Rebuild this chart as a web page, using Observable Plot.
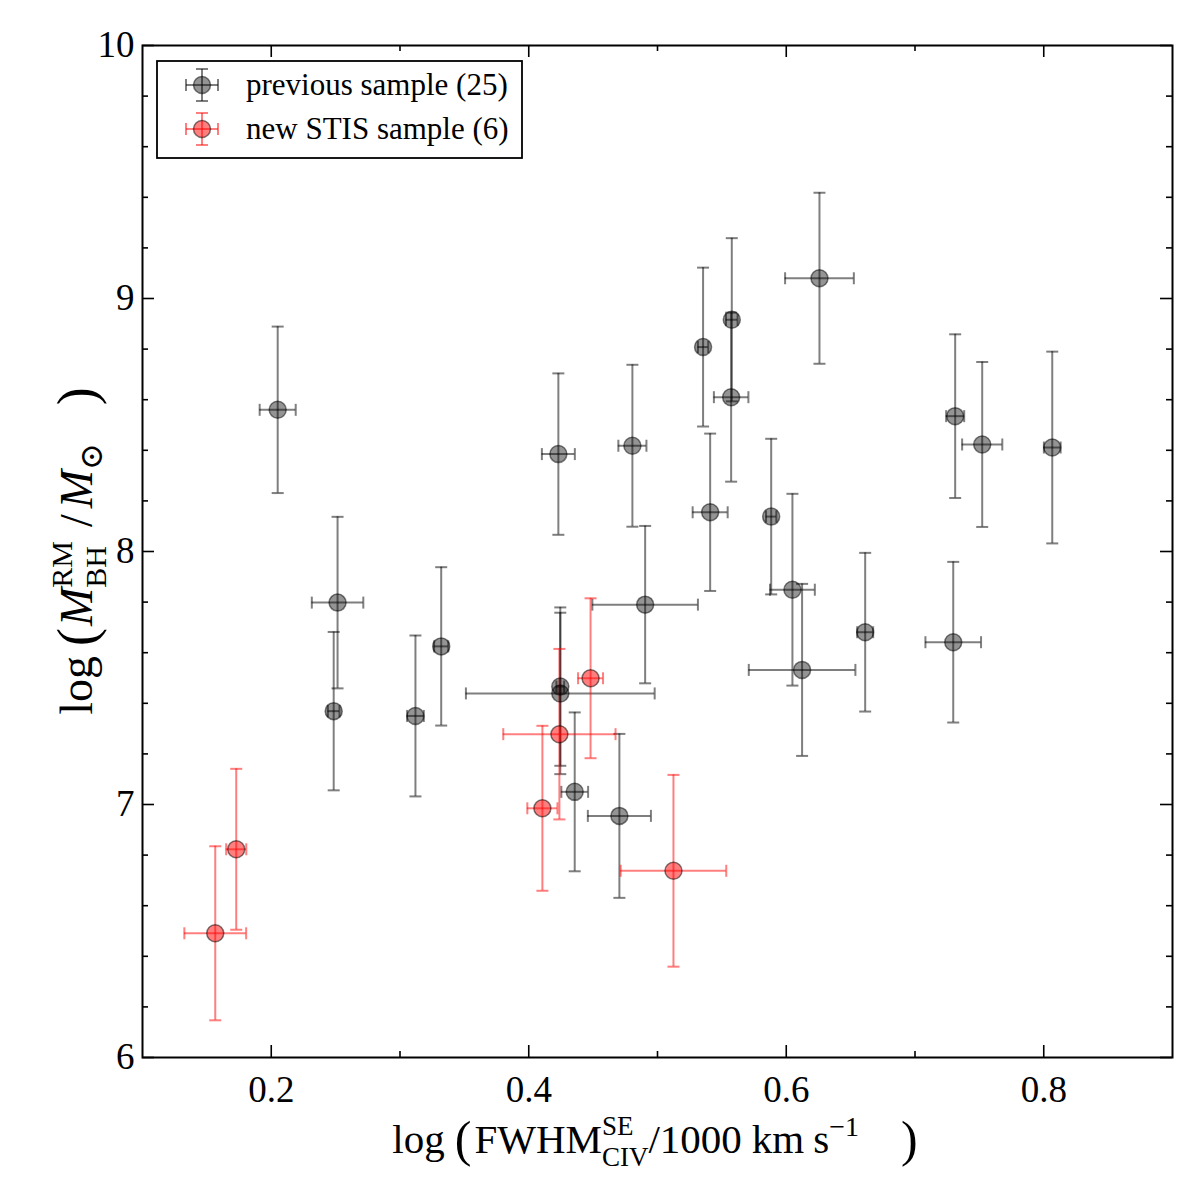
<!DOCTYPE html>
<html>
<head>
<meta charset="utf-8">
<script src="https://cdn.jsdelivr.net/npm/d3@7"></script>
<script src="https://cdn.jsdelivr.net/npm/@observablehq/plot@0.6"></script>
<style>
  html, body { margin: 0; padding: 0; background: #fff; }
  #chart svg { display: block; }
  #chart svg text { font-family: "Liberation Serif", "DejaVu Serif", serif; }
</style>
</head>
<body>
<div id="chart"></div>
<script>
// ---- data ----
const prevX    = [0.205, 0.2515, 0.2485, 0.312, 0.332, 0.423, 0.4245, 0.4245, 0.4357, 0.4704, 0.4904, 0.4805, 0.5354, 0.5577, 0.5572, 0.5409, 0.6258, 0.5883, 0.6048, 0.6123, 0.6613, 0.7312, 0.7522, 0.8066, 0.7297];
const prevY    = [8.560, 7.798, 7.369, 7.350, 7.625, 8.385, 7.466, 7.439, 7.050, 6.955, 7.790, 8.418, 8.808, 8.916, 8.610, 8.155, 9.080, 8.138, 7.849, 7.532, 7.681, 8.535, 8.423, 8.411, 7.6415];
const prevXerr = [0.014, 0.020, 0.0045, 0.0065, 0.0055, 0.0128, 0.003, 0.0733, 0.0104, 0.0245, 0.041, 0.0109, 0.004, 0.0045, 0.0134, 0.0136, 0.0267, 0.004, 0.0174, 0.0414, 0.0062, 0.007, 0.0156, 0.0065, 0.0216];
const prevYerr = [0.329, 0.339, 0.313, 0.318, 0.313, 0.319, 0.313, 0.319, 0.314, 0.324, 0.311, 0.320, 0.314, 0.3225, 0.334, 0.311, 0.338, 0.3075, 0.379, 0.34, 0.3136, 0.3235, 0.326, 0.379, 0.3175];

const newX    = [0.1565, 0.1728, 0.4106, 0.4238, 0.448, 0.5124];
const newY    = [6.491, 6.823, 6.985, 7.278, 7.499, 6.738];
const newXerr = [0.024, 0.0078, 0.0117, 0.0436, 0.0097, 0.041];
const newYerr = [0.344, 0.318, 0.326, 0.337, 0.316, 0.379];

const seriesNames = ["previous sample (25)", "new STIS sample (6)"];
const xTickLabels = [0.2, 0.4, 0.6, 0.8];
const xMinorTicks = [0.3, 0.5, 0.7];
const yTickLabels = [6, 7, 8, 9, 10];
const yMinorTicks = d3.range(6.2, 10, 0.2).filter(v => Math.abs(v - Math.round(v)) > 1e-6);

// ---- build tables ----
const prev = prevX.map((x, i) => ({x, y: prevY[i], ex: prevXerr[i], ey: prevYerr[i]}));
const stis = newX.map((x, i) => ({x, y: newY[i], ex: newXerr[i], ey: newYerr[i]}));

const W = 1200, H = 1200;
const mL = 142, mR = 28, mT = 45, mB = 143;
const plotH = H - mT - mB, plotW = W - mL - mR;
const FONT = "Liberation Serif, DejaVu Serif, serif";

const hcap = {draw(ctx, size) { const r = Math.sqrt(size / Math.PI); ctx.moveTo(-r, 0); ctx.lineTo(r, 0); }};
const vcap = {draw(ctx, size) { const r = Math.sqrt(size / Math.PI); ctx.moveTo(0, -r); ctx.lineTo(0, r); }};

function errMarks(data, color) {
  const o = {stroke: color, strokeOpacity: 0.5, strokeWidth: 2};
  return [
    Plot.ruleX(data, {x: "x", y1: d => d.y - d.ey, y2: d => d.y + d.ey, ...o}),
    Plot.ruleY(data, {y: "y", x1: d => d.x - d.ex, x2: d => d.x + d.ex, ...o}),
    Plot.dot(data, {x: "x", y: d => d.y - d.ey, symbol: hcap, r: 6, fill: "none", ...o}),
    Plot.dot(data, {x: "x", y: d => d.y + d.ey, symbol: hcap, r: 6, fill: "none", ...o}),
    Plot.dot(data, {x: d => d.x - d.ex, y: "y", symbol: vcap, r: 6, fill: "none", ...o}),
    Plot.dot(data, {x: d => d.x + d.ex, y: "y", symbol: vcap, r: 6, fill: "none", ...o})
  ];
}

const tickStyle = {stroke: "black", strokeWidth: 1.6};
const MAJ = 12, MIN = 6;

const chart = Plot.plot({
  width: W, height: H,
  marginLeft: mL, marginRight: mR, marginTop: mT, marginBottom: mB,
  style: {fontFamily: FONT, fontSize: "36px", background: "white", color: "black"},
  x: {domain: [0.1, 0.9]},
  y: {domain: [6, 10]},
  marks: [
    Plot.tickX(xTickLabels, {x: d => d, insetTop: plotH - MAJ, ...tickStyle}),
    Plot.tickX(xMinorTicks, {x: d => d, insetTop: plotH - MIN, ...tickStyle}),
    Plot.tickX(xTickLabels, {x: d => d, insetBottom: plotH - MAJ, ...tickStyle}),
    Plot.tickX(xMinorTicks, {x: d => d, insetBottom: plotH - MIN, ...tickStyle}),
    Plot.tickY(yTickLabels, {y: d => d, insetRight: plotW - MAJ, ...tickStyle}),
    Plot.tickY(yMinorTicks, {y: d => d, insetRight: plotW - MIN, ...tickStyle}),
    Plot.tickY(yTickLabels, {y: d => d, insetLeft: plotW - MAJ, ...tickStyle}),
    Plot.tickY(yMinorTicks, {y: d => d, insetLeft: plotW - MIN, ...tickStyle}),
    Plot.axisX({ticks: xTickLabels, tickSize: 0, tickPadding: 18, tickFormat: d3.format(".1f"), label: null, fontSize: 37, fontFamily: FONT}),
    Plot.axisY({ticks: yTickLabels, tickSize: 0, tickPadding: 8, tickFormat: d => String(d), label: null, fontSize: 37, fontFamily: FONT}),
    ...errMarks(prev, "black"),
    ...errMarks(stis, "red"),
    Plot.dot(prev, {x: "x", y: "y", r: 8.5, fill: "black", fillOpacity: 0.42, stroke: "black", strokeOpacity: 0.5, strokeWidth: 1.5}),
    Plot.dot(stis, {x: "x", y: "y", r: 8.5, fill: "red", fillOpacity: 0.5, stroke: "black", strokeOpacity: 0.5, strokeWidth: 1.5}),
    Plot.frame({stroke: "black", strokeWidth: 2})
  ]
});

document.getElementById("chart").appendChild(chart);

// ---- rich-text axis titles ----
const svg = d3.select(chart);
function richText(runs, cx, cy, rotate) {
  const g = svg.append("g").attr("font-family", FONT).attr("fill", "black").attr("text-anchor", "start");
  let cursor = 0, lastStart = 0, lastEnd = 0;
  for (const r of runs) {
    if (r.gap) { cursor += r.gap; lastEnd = cursor; continue; }
    const t = g.append("text")
      .attr("text-anchor", "start")
      .attr("font-size", r.size)
      .attr("font-style", r.italic ? "italic" : null)
      .attr("y", r.dy || 0)
      .text(r.t);
    const w = t.node().getComputedTextLength();
    let x0;
    if (r.stack) { x0 = lastStart; cursor = Math.max(lastEnd, x0 + w); }
    else { x0 = cursor; cursor = x0 + w; lastStart = x0; lastEnd = x0 + w; }
    t.attr("x", x0);
  }
  g.attr("transform", `translate(${cx},${cy}) rotate(${rotate || 0}) translate(${-cursor / 2},0)`);
  return g;
}

richText([
  {t: "log", size: 41},
  {gap: 10},
  {t: "(", size: 50, dy: 3},
  {gap: 3},
  {t: "FWHM", size: 41},
  {t: "SE", size: 27, dy: -18},
  {t: "CIV", size: 27, dy: 13, stack: true},
  {t: "/1000", size: 41},
  {gap: 10},
  {t: "km", size: 41},
  {gap: 9},
  {t: "s", size: 41},
  {t: "\u22121", size: 28, dy: -17},
  {gap: 42},
  {t: ")", size: 50, dy: 3}
], 655, 1153, 0);

richText([
  {t: "log", size: 46},
  {gap: 10},
  {t: "(", size: 54, dy: 3},
  {gap: 2},
  {t: "M", size: 46, italic: true},
  {t: "RM", size: 30, dy: -20},
  {t: "BH", size: 30, dy: 14, stack: true},
  {gap: 14},
  {t: "/", size: 46},
  {gap: 6},
  {t: "M", size: 46, italic: true},
  {t: "\u2299", size: 32, dy: 10},
  {gap: 38},
  {t: ")", size: 54, dy: 3}
], 92, 551, -90);

// ---- legend (inside axes, upper left) ----
const lg = svg.append("g").attr("font-family", FONT).attr("text-anchor", "start");
lg.append("rect").attr("x", 157).attr("y", 61).attr("width", 365).attr("height", 97)
  .attr("fill", "white").attr("stroke", "black").attr("stroke-width", 1.8);
const entries = [
  {name: seriesNames[0], bar: "black", fill: "black", fo: 0.42, cy: 85},
  {name: seriesNames[1], bar: "red", fill: "red", fo: 0.5, cy: 129}
];
for (const e of entries) {
  const cx = 202, h = 16, c = 6;
  const gg = lg.append("g").attr("stroke", e.bar).attr("stroke-opacity", 0.5).attr("stroke-width", 2);
  gg.append("line").attr("x1", cx).attr("x2", cx).attr("y1", e.cy - h).attr("y2", e.cy + h);
  gg.append("line").attr("x1", cx - h).attr("x2", cx + h).attr("y1", e.cy).attr("y2", e.cy);
  gg.append("line").attr("x1", cx - c).attr("x2", cx + c).attr("y1", e.cy - h).attr("y2", e.cy - h);
  gg.append("line").attr("x1", cx - c).attr("x2", cx + c).attr("y1", e.cy + h).attr("y2", e.cy + h);
  gg.append("line").attr("x1", cx - h).attr("x2", cx - h).attr("y1", e.cy - c).attr("y2", e.cy + c);
  gg.append("line").attr("x1", cx + h).attr("x2", cx + h).attr("y1", e.cy - c).attr("y2", e.cy + c);
  lg.append("circle").attr("cx", cx).attr("cy", e.cy).attr("r", 8.5)
    .attr("fill", e.fill).attr("fill-opacity", e.fo)
    .attr("stroke", "black").attr("stroke-opacity", 0.5).attr("stroke-width", 1.5);
  lg.append("text").attr("x", 246).attr("y", e.cy + 10).attr("font-size", 31).attr("fill", "black").text(e.name);
}
</script>
</body>
</html>
